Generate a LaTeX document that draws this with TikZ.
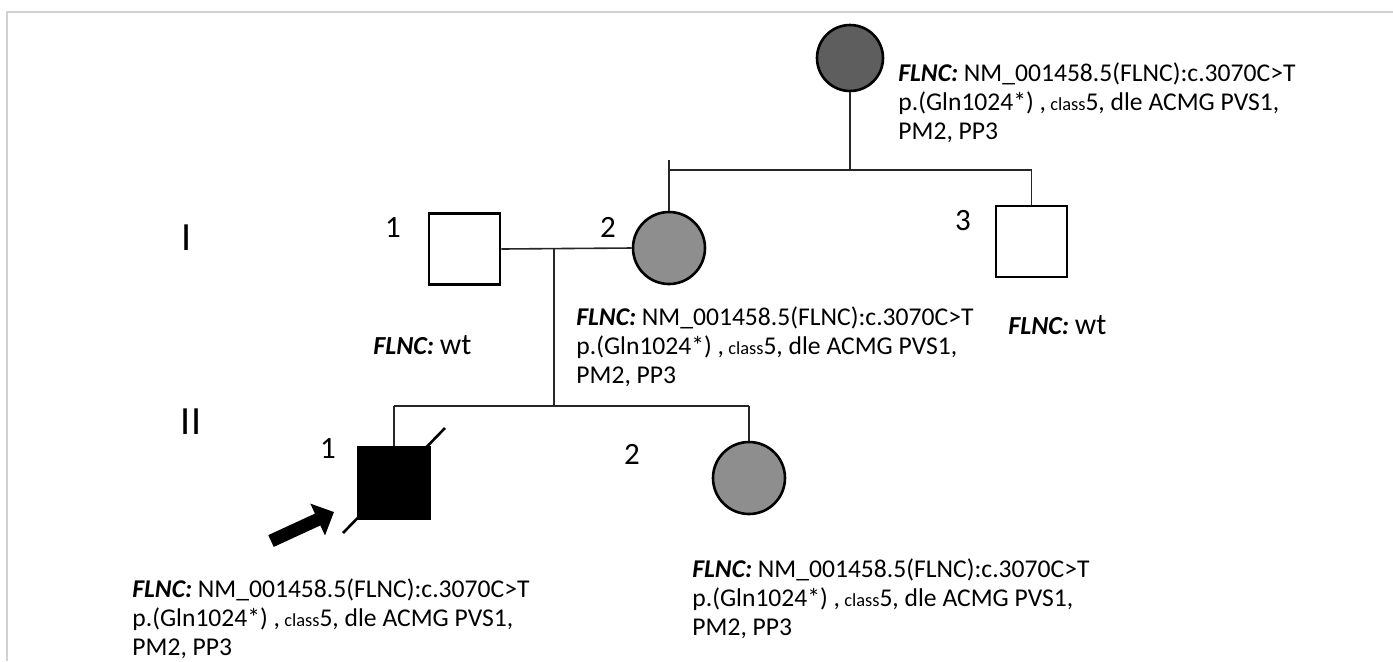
\documentclass[tikz,border=0pt]{standalone}
\usepackage{fontspec}
\setmainfont{Carlito}
\usetikzlibrary{arrows.meta}
\definecolor{framecol}{HTML}{D2D2D2}
\definecolor{darkg}{HTML}{5E5E5E}
\definecolor{midg}{HTML}{8E8E8E}
\newcommand{\flncb}{\textbf{\textit{FLNC:}}}
\newcommand{\mutlines}{\flncb{} NM\_001458.5(FLNC):c.3070C>T\\ p.(Gln1024*) ,{\fontsize{9.2}{11}\selectfont\ class}5, dle ACMG PVS1,\\ PM2, PP3}
\tikzset{
  pedline/.style={line width=0.8pt, draw=black!85},
  fem/.style={circle, draw=black, line width=1.3pt, inner sep=0pt, minimum size=36pt},
  mal/.style={rectangle, draw=black, line width=1.3pt, inner sep=0pt, minimum size=35.5pt, fill=white},
  note/.style={anchor=west, align=left, inner sep=0pt, font=\fontsize{12.8}{14.4}\selectfont},
  wtnote/.style={anchor=west, inner sep=0pt, font=\fontsize{13}{15}\selectfont},
  numlbl/.style={inner sep=0pt, font=\fontsize{15.5}{18}\selectfont},
  genlbl/.style={inner sep=0pt, font=\fontsize{20}{24}\selectfont},
}
\begin{document}
\begin{tikzpicture}[x=0.5pt,y=-0.5pt]
\useasboundingbox (0,0) rectangle (1393,661);
\draw[framecol, line width=1pt] (7,661) -- (7,12) -- (1393,12);

% individuals
\node[fem, fill=darkg, minimum size=33pt] (g) at (850,58) {};
\node[mal] (m1) at (464.5,249) {};
\node[fem, fill=midg] (f2) at (669,248) {};
\node[mal] (m3) at (1031.5,241.5) {};
\node[fem, fill=midg] (s2) at (749,478) {};

% connectors generation I
\coordinate (sibA) at (669,170);
\coordinate (sibM) at (850,170);
\coordinate (sibB) at (1031.5,170);
\coordinate (tick) at (669,160);
\draw[pedline] (g.south) -- (sibM);
\draw[pedline] (sibA) -- (sibB);
\draw[pedline] (tick) -- (f2.north);
\draw[pedline] (sibB) -- (m3.north);
\draw[pedline] (m1.east) -- (f2.west);

% connectors generation II
\coordinate (mar) at (554,249);
\coordinate (sibII) at (554,406);
\coordinate (sibL) at (394,406);
\coordinate (sibR) at (749,406);
\draw[pedline] (mar) -- (sibII);
\draw[pedline] (sibL) -- (sibR);
\draw[pedline] (sibR) -- (s2.north);

% proband with slash
\coordinate (d1) at (343,533);
\coordinate (d2) at (445,428);
\draw[line width=1.3pt] (d1) -- (d2);
\node[mal, fill=black] (p) at (394,483) {};
\draw[pedline] (sibL) -- (p.north);

% proband arrow
\coordinate (arT) at (271,541);
\coordinate (arH) at (334,512);
\draw[line width=6.5pt, -{Triangle[length=9pt,width=17pt]}] (arT) -- (arH);

% labels
\node[genlbl] (gI) at (187,238) {I};
\node[genlbl] (gII) at (191,422) {II};
\node[numlbl] (n11) at (393,228) {1};
\node[numlbl] (n12) at (608,227) {2};
\node[numlbl] (n13) at (963,221) {3};
\node[numlbl] (n21) at (328,449) {1};
\node[numlbl] (n22) at (632,454) {2};

% genotype notes
\node[note] (tg) at (898,103) {\mutlines};
\node[note] (t12) at (576,347) {\mutlines};
\node[note] (t21) at (132,619) {\mutlines};
\node[note] (t22) at (692,599) {\mutlines};
\node[wtnote] (w1) at (373,345) {\flncb{} {\fontsize{15}{17}\selectfont wt}};
\node[wtnote] (w3) at (1008,325) {\flncb{} {\fontsize{15}{17}\selectfont wt}};
\end{tikzpicture}
\end{document}
